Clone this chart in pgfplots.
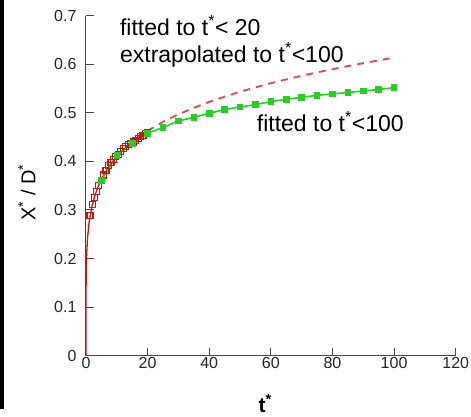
\documentclass[border=0pt]{standalone}
\usepackage{fontspec}
\setmainfont{Liberation Sans}
\usepackage{pgfplots}
\pgfplotsset{compat=1.18}

\definecolor{fitred}{RGB}{200,20,20}
\definecolor{dashred}{RGB}{214,80,80}
\definecolor{fitgreen}{RGB}{40,205,40}
\definecolor{axisgray}{RGB}{70,70,70}

\begin{document}
\begin{tikzpicture}
\useasboundingbox (-86pt,-60.3pt) rectangle (385pt,355.7pt);
% scan edge on the left
\fill[black] (-86pt,355.7pt) rectangle (-81.5pt,-53.3pt);
\begin{axis}[
    at={(0pt,0pt)}, anchor=south west,
    scale only axis, width=369.7pt, height=340pt,
    xmin=0, xmax=120, ymin=0, ymax=0.7,
    xtick={0,20,...,120}, ytick={0,0.1,...,0.7},
    axis lines*=left,
    axis line style={axisgray, line width=1pt},
    tick style={axisgray, line width=1pt},
    tick align=inside, major tick length=8pt,
    /pgf/number format/assume math mode=true,
    tick label style={font=\fontsize{16}{18}\selectfont, color=black!85},
    yticklabel style={/pgf/number format/fixed, /pgf/number format/precision=1, xshift=-6pt},
    xticklabel style={yshift=2pt},
    xlabel={\textbf{t\textsuperscript{*}}},
    xlabel style={font=\fontsize{21}{24}\selectfont, anchor=center, at={(axis description cs:0.485,-0.14)}},
    ylabel={X\textsuperscript{*} / D\textsuperscript{*}},
    ylabel style={font=\fontsize{20}{23}\selectfont, anchor=center, rotate=0, at={(axis description cs:-0.16,0.48)}},
    clip=false,
  ]
  % fit to t*<20 (solid) and its extrapolation (dashed)
  \addplot[fitred, line width=1.3pt] coordinates {
    (0,0) (0.0001,0.0547) (0.001,0.0818) (0.01,0.1224) (0.05,0.162) (0.1,0.183)
    (0.2,0.2068) (0.5,0.2427) (1,0.274) (2,0.3093) (3,0.3321) (4,0.3492)
    (5,0.3631) (6,0.3749) (7,0.3852) (8,0.3943) (9,0.4025) (10,0.4100)
    (12,0.4233) (14,0.4348) (16,0.4451) (18,0.4544) (20,0.4629)};
  \addplot[dashred, line width=1.9pt, dash pattern=on 7pt off 6pt] coordinates {
    (20,0.4629) (25,0.4815) (30,0.4969) (35,0.5104) (40,0.5225) (45,0.5334)
    (50,0.5433) (55,0.5524) (60,0.5610) (65,0.5689) (70,0.5763) (75,0.5833)
    (80,0.5899) (85,0.5962) (90,0.6023) (95,0.6080) (100,0.6135)};
  % measured points up to t*=20
  \addplot[fitred, only marks, mark=square, mark size=3pt, mark options={line width=1.1pt}] coordinates {
    (1.3,0.288) (2.2,0.311) (2.9,0.326) (3.5,0.338) (4.2,0.350) (4.9,0.360)
    (5.7,0.372) (6.5,0.382) (7.3,0.391) (8.1,0.397) (8.9,0.404) (9.7,0.410)
    (10.5,0.415) (11.3,0.420) (12.1,0.426) (12.9,0.430) (13.7,0.434) (14.5,0.437)
    (15.3,0.440) (16.1,0.444) (16.9,0.448) (17.7,0.452) (18.5,0.454) (19.3,0.457)
    (20.1,0.460)};
  % fit to t*<100
  \addplot[fitgreen, line width=1.6pt, mark=square*, mark size=2.5pt, mark options={solid}] coordinates {
    (5,0.361) (10,0.412) (15,0.437) (20,0.458) (25,0.470) (30,0.483)
    (35,0.491) (40,0.499) (45,0.507) (50,0.512) (55,0.517) (60,0.523)
    (65,0.528) (70,0.532) (75,0.536) (80,0.539) (85,0.542) (90,0.545)
    (95,0.548) (100,0.552)};
  \node[anchor=base west, inner sep=0, font=\fontsize{23}{27}\selectfont] at (axis cs:11.0,0.660) {fitted to t\textsuperscript{*}< 20};
  \node[anchor=base west, inner sep=0, font=\fontsize{23}{27}\selectfont] at (axis cs:11.0,0.603) {extrapolated to t\textsuperscript{*}<100};
  \node[anchor=base west, inner sep=0, font=\fontsize{23}{27}\selectfont] at (axis cs:55.4,0.461) {fitted to t\textsuperscript{*}<100};
\end{axis}
\end{tikzpicture}
\end{document}
